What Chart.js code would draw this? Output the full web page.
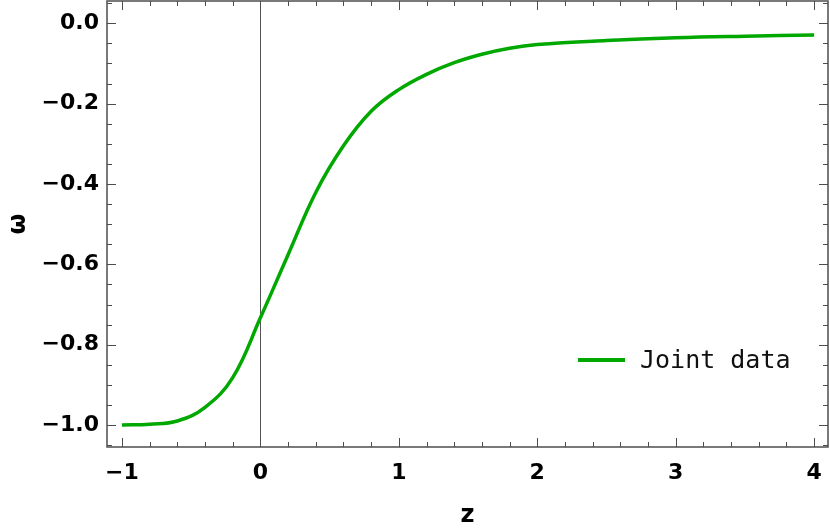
<!DOCTYPE html>
<html>
<head>
<meta charset="utf-8">
<script src="https://cdn.jsdelivr.net/npm/chart.js@4.4.0/dist/chart.umd.min.js"></script>
<style>
  body { margin: 0; background: #fff; }
  #wrap { position: relative; width: 830px; height: 531px; }
  #legend { position: absolute; left: 578px; top: 347px; display: flex; align-items: center;
            font-family: "DejaVu Sans Mono", monospace; font-size: 25px; line-height: 25px; color: #111; }
  #legend .swatch { width: 47px; height: 4px; margin-right: 15px; }
</style>
</head>
<body>
<div id="wrap">
  <canvas id="myChart" width="830" height="531"></canvas>
  <div id="legend"><span class="swatch"></span><span class="label"></span></div>
</div>
<script>
// values
const zValues = [-1, -0.8, -0.6, -0.4, -0.2, 0, 0.2, 0.4, 0.6, 0.8, 1.0, 1.2, 1.4, 1.6, 1.8, 2.0, 2.5, 3.0, 3.5, 4.0];
const omegaValues = [-1.0, -0.998, -0.99, -0.956, -0.882, -0.733, -0.576, -0.421, -0.305, -0.219,
                     -0.165, -0.127, -0.098, -0.077, -0.062, -0.053, -0.043, -0.036, -0.032, -0.029];
const xTicks = [-1, 0, 1, 2, 3, 4];
const yTicks = [-1.0, -0.8, -0.6, -0.4, -0.2, 0.0];
const seriesName = "Joint data";

const lineColor = "#00a800";
const tickFont = { family: "DejaVu Sans", weight: "bold", size: 22 };
const titleFont = { family: "DejaVu Sans", weight: "bold", size: 24 };

function minus(s) {
  return s.replace("-", "\u2212");
}

// frame with inward ticks on all four sides, plus the z = 0 line
const frameTicks = {
  id: "frameTicks",
  beforeDatasetsDraw(chart) {
    const { ctx, chartArea: a, scales: { x } } = chart;
    const p = Math.round(x.getPixelForValue(0)) + 0.5;
    ctx.save();
    ctx.strokeStyle = "#555";
    ctx.lineWidth = 1;
    ctx.beginPath();
    ctx.moveTo(p, a.top);
    ctx.lineTo(p, a.bottom);
    ctx.stroke();
    ctx.restore();
  },
  afterDatasetsDraw(chart) {
    const { ctx, chartArea: a, scales: { x, y } } = chart;
    ctx.save();
    ctx.strokeStyle = "#4d4d4d";
    ctx.lineWidth = 1;
    ctx.beginPath();
    for (let i = Math.ceil(x.min / 0.2); i * 0.2 <= x.max + 1e-9; i++) {
      const p = Math.round(x.getPixelForValue(i * 0.2)) + 0.5;
      const len = i % 5 === 0 ? 9 : 5;
      ctx.moveTo(p, a.bottom); ctx.lineTo(p, a.bottom - len);
      ctx.moveTo(p, a.top); ctx.lineTo(p, a.top + len);
    }
    for (let i = Math.ceil(y.min / 0.05 - 1e-9); i * 0.05 <= y.max + 1e-9; i++) {
      const p = Math.round(y.getPixelForValue(i * 0.05)) + 0.5;
      const len = i % 4 === 0 ? 9 : 5;
      ctx.moveTo(a.left, p); ctx.lineTo(a.left + len, p);
      ctx.moveTo(a.right, p); ctx.lineTo(a.right - len, p);
    }
    ctx.stroke();
    ctx.lineWidth = 1.5;
    ctx.strokeRect(a.left, a.top, a.right - a.left, a.bottom - a.top);
    ctx.restore();
  }
};

const config = {
  type: "scatter",
  data: {
    datasets: [
      {
        label: seriesName,
        data: zValues.map((z, i) => ({ x: z, y: omegaValues[i] })),
        showLine: true,
        borderColor: lineColor,
        borderWidth: 3.5,
        pointRadius: 0,
        tension: 0.4,
        fill: false,
      },
    ],
  },
  options: {
    responsive: false,
    animation: false,
    devicePixelRatio: 1,
    layout: { padding: { top: 1, right: 2, left: 0, bottom: 0 } },
    plugins: {
      legend: { display: false },
      tooltip: { enabled: false },
    },
    scales: {
      x: {
        type: "linear",
        min: -1.108,
        max: 4.1,
        grid: { display: false, drawTicks: false },
        border: { display: false },
        afterBuildTicks: (s) => { s.ticks = xTicks.map((v) => ({ value: v })); },
        afterFit: (s) => { s.height = 84; s.paddingLeft = 0; s.paddingRight = 0; },
        ticks: {
          font: tickFont,
          color: "#000",
          padding: 13,
          maxRotation: 0,
          autoSkip: false,
          callback: (v) => minus(String(v)),
        },
        title: { display: true, text: "z", font: titleFont, color: "#000", padding: { top: 0, bottom: 1 } },
      },
      y: {
        type: "linear",
        min: -1.0547,
        max: 0.0555,
        grid: { display: false, drawTicks: false },
        border: { display: false },
        afterBuildTicks: (s) => { s.ticks = yTicks.map((v) => ({ value: v })); },
        afterFit: (s) => { s.width = 107; s.paddingTop = 0; s.paddingBottom = 0; },
        ticks: {
          font: tickFont,
          color: "#000",
          padding: 8,
          autoSkip: false,
          callback: (v) => minus(Math.abs(v) < 1e-9 ? "0.0" : v.toFixed(1)),
        },
        title: { display: true, text: "ω", font: titleFont, color: "#000", padding: { top: 4, bottom: 0 } },
      },
    },
  },
  plugins: [frameTicks],
};

const myChart = new Chart(document.getElementById("myChart"), config);

// legend inside the plot
const legend = document.getElementById("legend");
legend.querySelector(".swatch").style.background = lineColor;
legend.querySelector(".label").textContent = seriesName;
</script>
</body>
</html>
